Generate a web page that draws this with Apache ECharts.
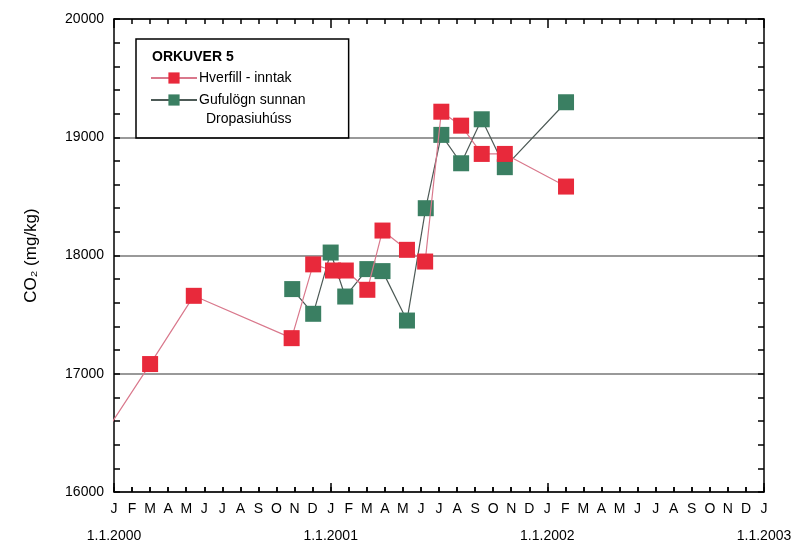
<!DOCTYPE html>
<html>
<head>
<meta charset="utf-8">
<script src="https://cdn.jsdelivr.net/npm/echarts@6/dist/echarts.min.js"></script>
<style>
  html, body { margin: 0; padding: 0; background: #fff; }
  #chart { width: 804px; height: 549px; }
</style>
</head>
<body>
<div id="chart"></div>
<script>
// sampling dates and CO2 values (mg/kg)
const hverfillDates = ['1999-12-01', '2000-03-01', '2000-05-14', '2000-10-27', '2000-12-02', '2001-01-05',
  '2001-01-27', '2001-03-02', '2001-03-28', '2001-05-08', '2001-06-08', '2001-07-05', '2001-08-08',
  '2001-09-12', '2001-10-21', '2002-02-02']
const hverfillValues = [16380, 17082, 17659, 17301, 17925, 17873, 17873, 17710, 18211, 18048, 17949,
  19216, 19098, 18859, 18859, 18583]

const gufulognDates = ['2000-10-28', '2000-12-02', '2001-01-01', '2001-01-26', '2001-03-02', '2001-03-28',
  '2001-05-08', '2001-06-09', '2001-07-05', '2001-08-08', '2001-09-12', '2001-10-21', '2002-02-02']
const gufulognValues = [17716, 17507, 18025, 17653, 17885, 17868, 17450, 18400, 19020, 18780, 19152,
  18747, 19296]

const monthLetters = ['J', 'F', 'M', 'A', 'M', 'J', 'J', 'A', 'S', 'O', 'N', 'D']
const yearLabels = ['1.1.2000', '1.1.2001', '1.1.2002', '1.1.2003']

// months since 1.1.2000 (fractional)
function toMonths(s) {
  const [y, m, d] = s.split('-').map(Number)
  const days = new Date(y, m, 0).getDate()
  return (y - 2000) * 12 + (m - 1) + (d - 1) / days
}

const hverfillData = hverfillDates.map((d, i) => [toMonths(d), hverfillValues[i]])
const gufulognData = gufulognDates.map((d, i) => [toMonths(d), gufulognValues[i]])

const font = 'Liberation Sans, Arial, sans-serif'
const chart = echarts.init(document.getElementById('chart'))

const axisLine = { show: true, onZero: false, lineStyle: { color: '#000', width: 1.5 } }
const tickStyle = { color: '#000', width: 1.5 }

chart.setOption({
  animation: false,
  textStyle: { fontFamily: font },
  grid: [
    { left: 114, right: 40, top: 19, bottom: 57 },
    // thin strip on the bottom edge, its split lines give the month ticks
    { left: 114, right: 40, bottom: 57, height: 5 }
  ],
  title: [
    {
      text: 'ORKUVER 5',
      left: 152, top: 50,
      padding: 0,
      textStyle: { fontSize: 14, fontWeight: 'bold', color: '#000', fontFamily: font }
    },
    {
      text: 'Dropasiuhúss',
      left: 206, top: 112,
      padding: 0,
      textStyle: { fontSize: 14, fontWeight: 'normal', color: '#000', fontFamily: font }
    }
  ],
  legend: {
    orient: 'vertical',
    left: 136, top: 39,
    padding: [32, 43, 31, 14],
    itemGap: 8,
    itemWidth: 46,
    itemHeight: 14,
    borderColor: '#000',
    borderWidth: 1.5,
    textStyle: { fontSize: 14, color: '#000', fontFamily: font, padding: [0, 0, 0, -3] },
    data: ['Hverfill - inntak', 'Gufulögn sunnan']
  },
  xAxis: [
    {
      type: 'value', min: 0, max: 36, interval: 1, position: 'bottom',
      axisLine: axisLine,
      axisTick: { show: true, inside: true, length: 5, lineStyle: tickStyle },
      axisLabel: {
        show: true, margin: 10, fontSize: 14, color: '#000',
        formatter: v => monthLetters[v % 12]
      },
      splitLine: { show: false }
    },
    {
      type: 'value', min: 0, max: 36, interval: 12, position: 'bottom',
      axisLine: { show: false, onZero: false },
      axisTick: { show: true, inside: true, length: 9, lineStyle: tickStyle },
      axisLabel: {
        margin: 37, fontSize: 14, color: '#000',
        formatter: v => yearLabels[v / 12]
      },
      splitLine: { show: false }
    },
    {
      type: 'value', min: 0, max: 36, interval: 12, position: 'top',
      axisLine: axisLine,
      axisTick: { inside: true, length: 9, lineStyle: tickStyle },
      minorTick: { show: true, splitNumber: 12, length: 5, lineStyle: tickStyle },
      axisLabel: { show: false },
      splitLine: { show: false }
    },
    {
      gridIndex: 1,
      type: 'value', min: 0, max: 36, interval: 1,
      axisLine: { show: false },
      axisTick: { show: false },
      axisLabel: { show: false },
      splitLine: { show: true, lineStyle: tickStyle }
    }
  ],
  yAxis: [
    {
      type: 'value', min: 16000, max: 20000, interval: 1000, position: 'left',
      name: 'CO₂ (mg/kg)',
      nameLocation: 'middle',
      nameGap: 74,
      nameTextStyle: { fontSize: 17, color: '#000', fontFamily: font },
      axisLine: axisLine,
      axisTick: { inside: true, length: 6, lineStyle: tickStyle },
      minorTick: { show: true, splitNumber: 5, length: 6, lineStyle: tickStyle },
      axisLabel: { fontSize: 14, color: '#000', margin: 10, formatter: v => String(v) },
      splitLine: { show: true, lineStyle: { color: '#777', width: 1.5 } }
    },
    {
      type: 'value', min: 16000, max: 20000, interval: 1000, position: 'right',
      axisLine: axisLine,
      axisTick: { inside: true, length: 6, lineStyle: tickStyle },
      minorTick: { show: true, splitNumber: 5, length: 6, lineStyle: tickStyle },
      axisLabel: { show: false },
      splitLine: { show: false }
    },
    {
      gridIndex: 1,
      type: 'value', min: 0, max: 1,
      show: false
    }
  ],
  series: [
    {
      name: 'Hverfill - inntak',
      type: 'line',
      data: hverfillData,
      clip: true,
      symbol: 'rect',
      symbolSize: 16,
      itemStyle: { color: '#e8293b' },
      lineStyle: { color: '#d9788c', width: 1.2 },
      z: 3
    },
    {
      name: 'Gufulögn sunnan',
      type: 'line',
      data: gufulognData,
      clip: true,
      symbol: 'rect',
      symbolSize: 16,
      itemStyle: { color: '#3a7f62' },
      lineStyle: { color: '#4d5a56', width: 1.2 },
      z: 2
    }
  ]
})
</script>
</body>
</html>
